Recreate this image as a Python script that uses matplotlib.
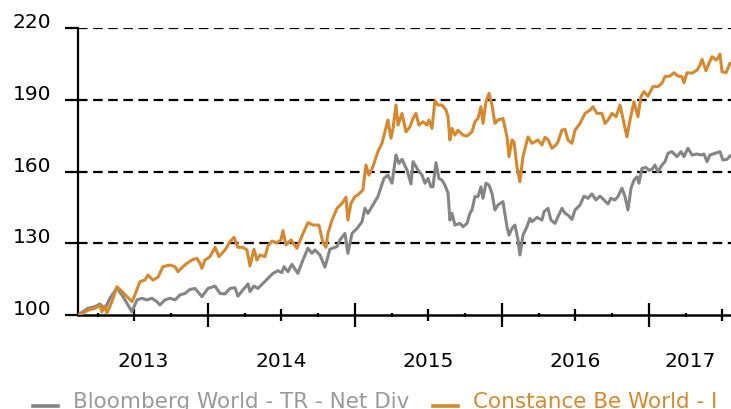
import numpy as np
import matplotlib
matplotlib.use("Agg")
import matplotlib.pyplot as plt

# benchmark: Bloomberg World - TR - Net Div (rebased to 100), decimal years
bench_t = [
    2013.116, 2013.184, 2013.231, 2013.265, 2013.299, 2013.333, 2013.381, 2013.422, 2013.456, 2013.483,
    2013.517, 2013.551, 2013.585, 2013.619, 2013.653, 2013.673, 2013.707, 2013.741, 2013.776, 2013.810,
    2013.844, 2013.878, 2013.912, 2013.959, 2014.000, 2014.048, 2014.082, 2014.116, 2014.150, 2014.184,
    2014.204, 2014.238, 2014.272, 2014.286, 2014.313, 2014.340, 2014.374, 2014.408, 2014.442, 2014.476,
    2014.503, 2014.517, 2014.544, 2014.571, 2014.612, 2014.646, 2014.680, 2014.707, 2014.728, 2014.762,
    2014.796, 2014.830, 2014.878, 2014.898, 2014.932, 2014.952, 2014.980, 2015.014, 2015.048, 2015.068,
    2015.088, 2015.122, 2015.156, 2015.197, 2015.224, 2015.252, 2015.279, 2015.299, 2015.320, 2015.354,
    2015.381, 2015.395, 2015.429, 2015.456, 2015.476, 2015.497, 2015.517, 2015.531, 2015.551, 2015.571,
    2015.592, 2015.612, 2015.633, 2015.646, 2015.660, 2015.680, 2015.714, 2015.735, 2015.762, 2015.782,
    2015.796, 2015.816, 2015.837, 2015.857, 2015.871, 2015.891, 2015.912, 2015.932, 2015.952, 2015.973,
    2016.007, 2016.034, 2016.048, 2016.068, 2016.088, 2016.109, 2016.122, 2016.143, 2016.170, 2016.190,
    2016.204, 2016.238, 2016.272, 2016.286, 2016.313, 2016.333, 2016.361, 2016.381, 2016.408, 2016.429,
    2016.449, 2016.476, 2016.497, 2016.531, 2016.558, 2016.585, 2016.612, 2016.639, 2016.667, 2016.694,
    2016.721, 2016.741, 2016.769, 2016.789, 2016.816, 2016.837, 2016.857, 2016.878, 2016.898, 2016.918,
    2016.932, 2016.952, 2016.980, 2017.000, 2017.020, 2017.041, 2017.061, 2017.088, 2017.109, 2017.129,
    2017.156, 2017.190, 2017.218, 2017.238, 2017.265, 2017.293, 2017.327, 2017.354, 2017.374, 2017.395,
    2017.415, 2017.449, 2017.483, 2017.503, 2017.531, 2017.551,
]
bench_v = [
    100.0, 102.8, 103.5, 104.6, 102.5, 107.0, 111.3, 107.7, 104.2, 101.4,
    106.3, 107.0, 106.3, 107.0, 105.6, 104.2, 106.3, 107.0, 106.3, 108.4,
    109.0, 110.7, 111.1, 107.7, 111.1, 112.1, 109.0, 108.8, 111.1, 111.4,
    107.9, 110.5, 113.0, 109.8, 112.1, 111.1, 113.2, 115.3, 117.4, 118.5,
    117.7, 120.2, 118.1, 121.2, 117.4, 123.0, 127.9, 125.8, 127.2, 125.1,
    120.0, 127.5, 128.6, 131.4, 134.1, 125.8, 134.1, 136.2, 139.0, 144.6,
    142.5, 146.0, 149.5, 157.1, 158.5, 155.1, 166.9, 163.4, 165.1, 160.6,
    154.8, 164.1, 160.6, 158.5, 155.1, 157.1, 153.6, 153.6, 163.7, 157.1,
    156.4, 154.3, 151.0, 139.7, 142.5, 137.6, 138.3, 136.9, 138.3, 142.5,
    143.9, 149.5, 149.5, 153.6, 148.8, 155.1, 154.3, 150.9, 143.9, 146.0,
    147.4, 136.9, 133.4, 136.2, 137.6, 131.4, 125.1, 133.4, 136.9, 140.4,
    139.0, 140.8, 139.7, 143.2, 144.6, 139.7, 138.3, 141.1, 144.6, 142.5,
    141.8, 140.0, 143.9, 146.0, 149.7, 148.8, 150.6, 148.1, 149.7, 148.1,
    146.4, 148.8, 148.1, 149.5, 153.0, 149.5, 143.9, 153.0, 156.4, 157.8,
    155.1, 161.3, 161.7, 160.5, 160.9, 162.7, 159.9, 162.7, 164.1, 167.6,
    168.3, 166.2, 168.3, 166.2, 169.7, 166.9, 167.3, 166.9, 167.3, 164.1,
    166.9, 167.6, 168.3, 164.8, 165.1, 166.5,
]

# fund: Constance Be World - I
fund_t = [
    2013.116, 2013.129, 2013.184, 2013.231, 2013.265, 2013.279, 2013.299, 2013.313, 2013.347, 2013.381,
    2013.415, 2013.449, 2013.483, 2013.503, 2013.537, 2013.571, 2013.592, 2013.626, 2013.660, 2013.694,
    2013.741, 2013.776, 2013.796, 2013.830, 2013.857, 2013.891, 2013.925, 2013.946, 2013.959, 2013.980,
    2014.014, 2014.048, 2014.075, 2014.116, 2014.150, 2014.177, 2014.204, 2014.238, 2014.265, 2014.286,
    2014.313, 2014.333, 2014.354, 2014.388, 2014.408, 2014.435, 2014.469, 2014.497, 2014.510, 2014.531,
    2014.565, 2014.605, 2014.639, 2014.680, 2014.714, 2014.755, 2014.782, 2014.803, 2014.816, 2014.844,
    2014.878, 2014.912, 2014.939, 2014.952, 2014.973, 2015.000, 2015.020, 2015.054, 2015.075, 2015.095,
    2015.122, 2015.156, 2015.184, 2015.218, 2015.224, 2015.245, 2015.259, 2015.279, 2015.293, 2015.320,
    2015.347, 2015.374, 2015.395, 2015.415, 2015.435, 2015.463, 2015.490, 2015.503, 2015.524, 2015.544,
    2015.565, 2015.592, 2015.619, 2015.633, 2015.646, 2015.660, 2015.680, 2015.701, 2015.735, 2015.762,
    2015.782, 2015.796, 2015.816, 2015.837, 2015.857, 2015.871, 2015.891, 2015.912, 2015.932, 2015.952,
    2015.973, 2016.007, 2016.034, 2016.048, 2016.068, 2016.082, 2016.102, 2016.122, 2016.143, 2016.177,
    2016.204, 2016.224, 2016.245, 2016.272, 2016.293, 2016.313, 2016.340, 2016.367, 2016.381, 2016.408,
    2016.429, 2016.449, 2016.476, 2016.497, 2016.531, 2016.565, 2016.599, 2016.619, 2016.646, 2016.680,
    2016.701, 2016.721, 2016.748, 2016.776, 2016.803, 2016.823, 2016.850, 2016.871, 2016.898, 2016.925,
    2016.946, 2016.966, 2016.993, 2017.027, 2017.061, 2017.088, 2017.109, 2017.143, 2017.170, 2017.197,
    2017.224, 2017.238, 2017.259, 2017.293, 2017.327, 2017.347, 2017.361, 2017.388, 2017.408, 2017.429,
    2017.456, 2017.469, 2017.483, 2017.497, 2017.524, 2017.551,
]
fund_v = [
    100.0, 100.0, 102.0, 102.8, 104.0, 101.4, 103.8, 100.8, 105.6, 111.8,
    109.8, 107.7, 105.6, 108.4, 113.9, 114.6, 116.7, 114.6, 115.8, 120.2,
    120.9, 120.2, 118.1, 120.2, 121.6, 123.0, 123.7, 121.6, 119.5, 123.0,
    124.4, 128.3, 124.4, 127.2, 130.6, 132.5, 128.3, 128.3, 127.2, 120.5,
    127.5, 123.0, 125.1, 124.4, 128.8, 130.9, 130.2, 131.4, 135.3, 129.3,
    131.4, 127.9, 133.0, 138.6, 137.6, 137.6, 130.2, 128.3, 134.1, 139.7,
    144.6, 146.7, 149.2, 139.7, 146.7, 149.5, 150.2, 152.3, 162.7, 158.5,
    162.0, 168.3, 171.8, 180.1, 181.5, 173.9, 178.0, 187.8, 179.4, 184.3,
    176.6, 178.7, 182.2, 184.3, 179.4, 180.8, 179.4, 181.5, 178.0, 189.6,
    187.8, 187.8, 185.7, 182.9, 173.2, 178.0, 175.2, 177.3, 175.2, 174.8,
    175.9, 176.6, 180.8, 182.2, 187.1, 180.1, 189.2, 192.7, 187.8, 180.1,
    181.5, 182.2, 174.5, 166.2, 173.2, 172.4, 162.0, 155.7, 166.2, 174.5,
    171.8, 172.4, 173.2, 171.1, 174.3, 173.4, 169.7, 171.1, 172.4, 177.3,
    177.6, 173.2, 171.8, 177.3, 180.1, 184.3, 185.7, 187.1, 184.3, 184.3,
    180.1, 181.5, 184.3, 182.9, 187.8, 182.2, 174.5, 181.5, 189.2, 182.9,
    191.4, 193.4, 191.5, 195.5, 195.5, 196.9, 199.7, 199.9, 201.3, 199.9,
    199.7, 197.1, 201.3, 201.1, 202.4, 204.5, 206.9, 202.1, 205.2, 208.0,
    206.6, 207.3, 209.1, 201.7, 201.3, 205.2,
]

assert len(bench_t) == len(bench_v)
assert len(fund_t) == len(fund_v)

series_names = ["Bloomberg World - TR - Net Div", "Constance Be World - I"]
year_labels = ["2013", "2014", "2015", "2016", "2017"]
y_ticks = [100, 130, 160, 190, 220]
x_start, x_end = 2013.116, 2017.558

GREY = "#858585"
ORANGE = "#d5892f"

fig = plt.figure(figsize=(7.31, 4.09), dpi=100)
ax = fig.add_axes([78 / 731, 94 / 409, 653 / 731, 287 / 409])

ax.plot(bench_t, bench_v, color=GREY, lw=2.2, label=series_names[0], zorder=3)
ax.plot(fund_t, fund_v, color=ORANGE, lw=2.2, label=series_names[1], zorder=4)

ax.set_xlim(x_start, x_end)
ax.set_ylim(100, 220)

# y axis
ax.set_yticks(y_ticks)
ax.tick_params(axis="y", direction="out", length=9.4, width=1.6, pad=10,
               labelsize=14.5, colors="black")
for lab in ax.get_yticklabels():
    lab.set_verticalalignment("baseline")
for v in y_ticks[1:]:
    ax.axhline(v, color="black", lw=1.6, ls=(0, (4.3, 2.5)), zorder=1)

# x axis: years long, mid-year medium, quarters short
years = [2014, 2015, 2016, 2017]
ax.set_xticks(years)
ax.set_xticklabels([])
ax.set_xticks([y + q for y in range(2013, 2018) for q in (0.25, 0.75)
               if x_start < y + q < x_end], minor=True)
ax.tick_params(axis="x", which="major", direction="inout", length=17, width=1.6)
ax.tick_params(axis="x", which="minor", direction="inout", length=3, width=1.6)

sec = ax.secondary_xaxis("bottom")
sec.set_xticks([y + 0.5 for y in range(2013, 2018)])
sec.set_xticklabels([])
sec.tick_params(axis="x", direction="inout", length=8.6, width=1.6)
sec.spines["bottom"].set_visible(False)

# year labels centred on the visible part of each year
for lab in year_labels:
    y0 = max(int(lab), x_start)
    y1 = min(int(lab) + 1, x_end)
    ax.annotate(lab, xy=((y0 + y1) / 2, 0), xycoords=("data", "axes fraction"),
                xytext=(0, -37.4), textcoords="offset points",
                ha="center", va="baseline", fontsize=14.5)

for side in ("top", "right"):
    ax.spines[side].set_visible(False)
ax.spines["left"].set_linewidth(1.6)
ax.spines["bottom"].set_linewidth(1.8)

leg = ax.legend(loc="lower left", bbox_to_anchor=(33 / 731, -0.008),
                bbox_transform=fig.transFigure, ncol=2, frameon=False,
                fontsize=15.5, handlelength=1.15, handletextpad=0.7,
                columnspacing=1.1, borderpad=0, borderaxespad=0)
for line, txt in zip(leg.get_lines(), leg.get_texts()):
    line.set_ydata([y - 4 for y in line.get_ydata()])
    line.set_linewidth(2.6)
    txt.set_color("#999999" if line.get_color() == GREY else ORANGE)

fig.savefig("out.png", dpi=100)
